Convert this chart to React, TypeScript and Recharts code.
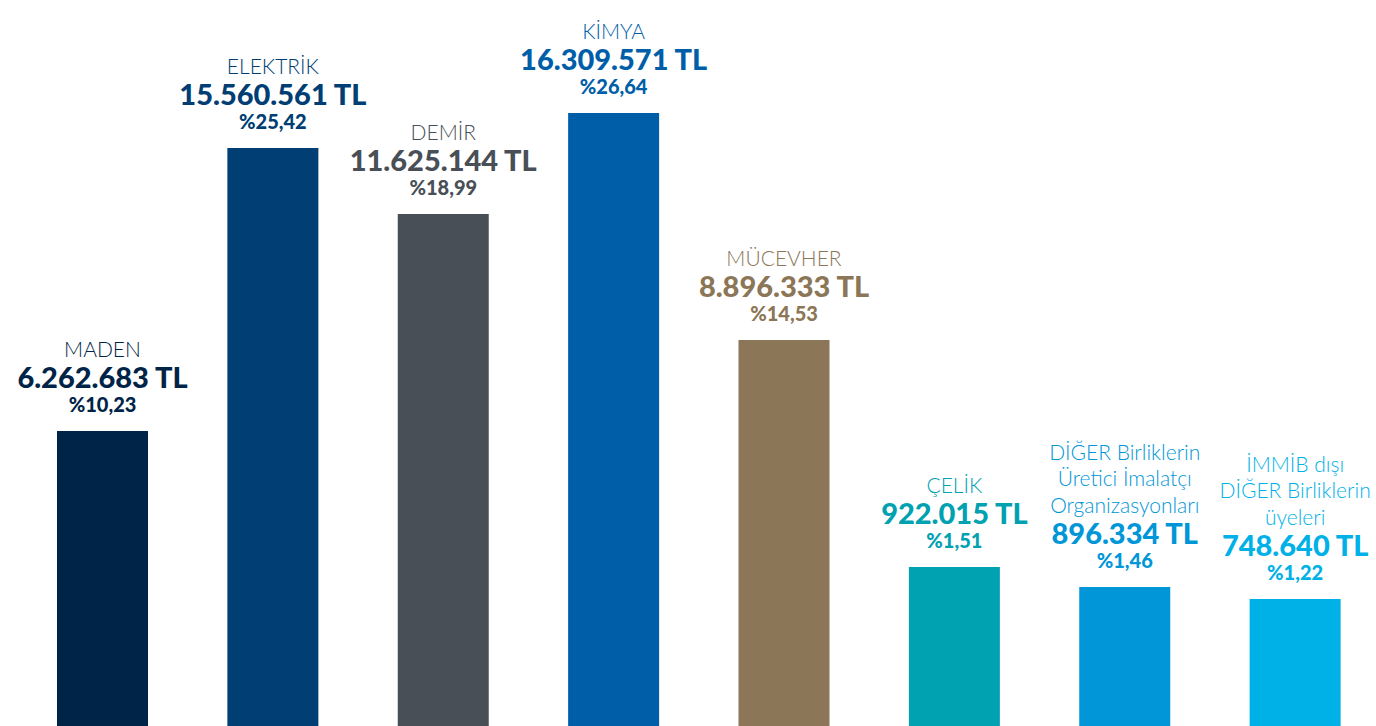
import { BarChart, Bar, XAxis, YAxis, Cell, LabelList } from 'recharts';

// category names (multi-line where the original wraps)
const names = [
  ['MADEN'],
  ['ELEKTRİK'],
  ['DEMİR'],
  ['KİMYA'],
  ['MÜCEVHER'],
  ['ÇELİK'],
  ['DİĞER Birliklerin', 'Üretici İmalatçı', 'Organizasyonları'],
  ['İMMİB dışı', 'DİĞER Birliklerin', 'üyeleri'],
];
const amounts = ['6.262.683', '15.560.561', '11.625.144', '16.309.571', '8.896.333', '922.015', '896.334', '748.640'];
const shares = ['10,23', '25,42', '18,99', '26,64', '14,53', '1,51', '1,46', '1,22'];
// bar heights in the original are not proportional to the amounts
const barLevel = [295, 578, 512, 613, 386, 159, 139, 127];
const colors = ['#002447', '#003e73', '#484f56', '#005ea9', '#8b7657', '#00a1b0', '#0096d7', '#00b1e7'];

const data = names.map((n, i) => ({
  key: String(i),
  lines: n,
  amount: amounts[i],
  share: shares[i],
  level: barLevel[i],
  color: colors[i],
}));

const font = 'Lato, "Open Sans", sans-serif';

function BarLabel(props: any) {
  const { x, y, width, index } = props;
  const d = data[index];
  const cx = x + width / 2;
  const n = d.lines.length;
  return (
    <g fontFamily={font} fill={d.color} textAnchor="middle">
      {d.lines.map((line, j) => (
        <text key={j} x={cx} y={y - 83 - (n - 1 - j) * 26.5} dominantBaseline="central" fontSize={21} fontWeight={300}>
          {line}
        </text>
      ))}
      <text x={cx} y={y - 55} dominantBaseline="central" fontSize={29} fontWeight={900}>
        {d.amount + ' TL'}
      </text>
      <text x={cx} y={y - 27} dominantBaseline="central" fontSize={20} fontWeight={900}>
        {'%' + d.share}
      </text>
    </g>
  );
}

export default function App() {
  return (
    <div style={{ position: 'absolute', left: 0, top: 0, width: 1376, height: 726, overflow: 'hidden', background: '#fff' }}>
      <BarChart width={1380} height={726} data={data} margin={{ top: 0, right: 0, bottom: 0, left: 17 }} barCategoryGap={0}>
        <XAxis dataKey="key" hide />
        <YAxis hide domain={[0, 726]} />
        <Bar dataKey="level" barSize={91} isAnimationActive={false}>
          {data.map((d) => (
            <Cell key={d.key} fill={d.color} />
          ))}
          <LabelList dataKey="level" content={BarLabel} />
        </Bar>
      </BarChart>
    </div>
  );
}
